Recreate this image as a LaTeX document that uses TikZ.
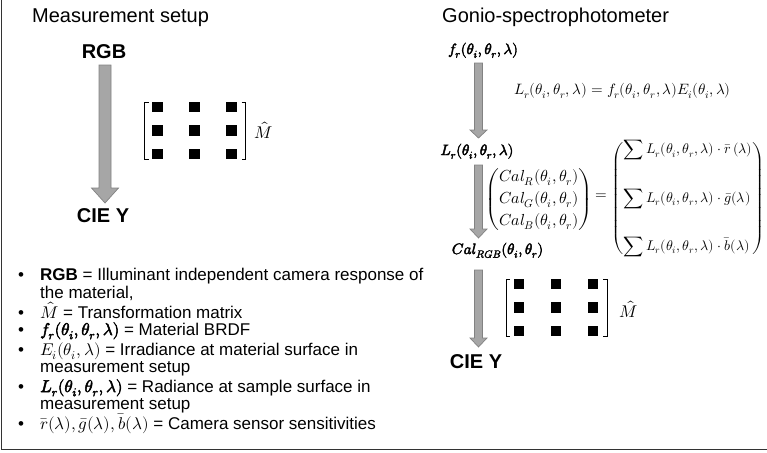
\documentclass[tikz,border=0pt]{standalone}
\usepackage{amsmath}
\usepackage{fontspec}
\usepackage{unicode-math}
\setmainfont{Liberation Sans}
\setmathfont{Latin Modern Math}
\setmathfont{Latin Modern Math}[version=bold,FakeBold=3]
\usetikzlibrary{calc}

\definecolor{arrowfill}{RGB}{166,166,166}
\definecolor{arrowline}{RGB}{130,130,130}

\tikzset{
  heading/.style={anchor=base west, inner sep=0pt, font=\fontsize{20}{24}\selectfont},
  biglabel/.style={anchor=base, inner sep=0pt, font=\fontsize{20}{24}\selectfont\bfseries},
  boldmath/.style={anchor=base, inner sep=0pt, font=\fontsize{15}{18}\selectfont\boldmath},
  mathlabel/.style={inner sep=0pt, font=\fontsize{15}{18}\selectfont},
  bullettext/.style={anchor=base west, inner sep=0pt, font=\fontsize{17}{20}\selectfont},
  bulletdot/.style={anchor=base, inner sep=0pt, font=\fontsize{17}{20}\selectfont},
  fatarrowstyle/.style={fill=arrowfill, draw=arrowline, line width=0.7pt, line join=miter},
  bracketline/.style={draw=black, line width=0.8pt},
  frameline/.style={draw=black!80, line width=1pt},
}

% shaft from #1 down to the tip #2; #3 half shaft width, #4 half head width, #5 head length
\newcommand\fatarrow[5]{%
  \draw[fatarrowstyle] ($(#1)+(-#3,0)$) -- ($(#2)+(-#3,-#5)$) -- ($(#2)+(-#4,-#5)$)
    -- (#2) -- ($(#2)+(#4,-#5)$) -- ($(#2)+(#3,-#5)$) -- ($(#1)+(#3,0)$) -- cycle;}

% a bracketed 3x3 matrix of filled squares, drawn in local coordinates
\newcommand\dotmatrix{%
  \draw[bracketline] (4,0) -- (0,0) -- (0,57) -- (4,57);
  \draw[bracketline] (97,0) -- (101,0) -- (101,57) -- (97,57);
  \foreach \cx in {13,50,87}
    \foreach \cy in {5,28.5,52}
      \fill (\cx-5.25,\cy-5.25) rectangle (\cx+5.25,\cy+5.25);}

\begin{document}
\begin{tikzpicture}[x=1pt,y=-1pt]
\useasboundingbox (0,0) rectangle (767,452);

% frame
\draw[frameline] (1.5,0) -- (1.5,449.5) -- (767,449.5);

% ---------------- left: measurement setup ----------------
\node[heading] (title1) at (32,23) {Measurement setup};
\node[biglabel] (rgb) at (104,58) {RGB};
\node[biglabel] (ciey1) at (103,222) {CIE Y};
\coordinate (a1s) at ($(rgb.base)+(1,7)$);
\coordinate (a1t) at ($(a1s |- ciey1.base)+(0,-19)$);
\fatarrow{a1s}{a1t}{6}{13.5}{15}

\begin{scope}[shift={(144.5,102)}]
  \dotmatrix
\end{scope}
\node[mathlabel, font=\fontsize{17}{20}\selectfont] (mhat1) at (263.5,130) {$\hat{M}$};

% ---------------- right: gonio-spectrophotometer ----------------
\node[heading] (title2) at (442,23) {Gonio-spectrophotometer};

\node[boldmath] (fr) at (483,54) {$f_r(\theta_i,\theta_r,\lambda)$};
\node[boldmath] (lr) at (477,155) {$L_r(\theta_i,\theta_r,\lambda)$};
\node[boldmath] (cal) at (497.5,254) {$Cal_{RGB}(\theta_i,\theta_r)$};
\node[biglabel] (ciey2) at (476,368) {CIE Y};

\coordinate (a2s) at ($(fr.base)+(-4.5,9)$);
\coordinate (a2t) at ($(a2s |- lr.base)+(0,-17)$);
\fatarrow{a2s}{a2t}{4}{8.5}{8}

\coordinate (a3s) at ($(lr.base)+(1.5,10)$);
\coordinate (a3t) at ($(a3s |- cal.base)+(0,-16)$);
\fatarrow{a3s}{a3t}{4}{8.5}{9}

\coordinate (a4s) at ($(cal.base)+(-19,16)$);
\coordinate (a4t) at ($(a4s |- ciey2.base)+(0,-21)$);
\fatarrow{a4s}{a4t}{4}{8.5}{9}

\node[mathlabel] (eq1) at (622.5,91)
  {$L_r(\theta_i,\theta_r,\lambda)=f_r(\theta_i,\theta_r,\lambda)E_i(\theta_i,\lambda)$};

\node[mathlabel, font=\fontsize{16}{22}\selectfont] (calvec) at (539,199.5)
  {$\left(\begin{array}{@{}c@{}}Cal_R(\theta_i,\theta_r)\\Cal_G(\theta_i,\theta_r)\\Cal_B(\theta_i,\theta_r)\end{array}\right)$};
\node[mathlabel] (eqsign) at (601,197) {$=$};
\node[mathlabel, font=\fontsize{14}{17}\selectfont] (sumvec) at (688,198.5)
  {$\left(\begin{array}{@{}l@{}}
    \displaystyle\sum L_r(\theta_i,\theta_r,\lambda)\cdot\bar{r}\,(\lambda)\\[30pt]
    \displaystyle\sum L_r(\theta_i,\theta_r,\lambda)\cdot\bar{g}(\lambda)\\[30pt]
    \displaystyle\sum L_r(\theta_i,\theta_r,\lambda)\cdot\bar{b}(\lambda)
  \end{array}\right)$};

\begin{scope}[shift={(506,279)}]
  \dotmatrix
\end{scope}
\node[mathlabel, font=\fontsize{17}{20}\selectfont] (mhat2) at (629,309) {$\hat{M}$};

% ---------------- legend ----------------
\foreach \yy in {280,318,335,355,392,429}
  \node[bulletdot] at (21,\yy) {•};
\node[bullettext] (l1) at (40,280) {\textbf{RGB} = Illuminant independent camera response of};
\node[bullettext] (l2) at (40,298) {the material,};
\node[bullettext] (l3) at (40,318) {$\hat{M}$ = Transformation matrix};
\node[bullettext] (l4) at (40,335) {{\boldmath$f_r(\theta_i,\theta_r,\lambda)$} = Material BRDF};
\node[bullettext] (l5) at (40,355) {$E_i(\theta_i,\lambda)$ = Irradiance at material surface in};
\node[bullettext] (l6) at (40,372) {measurement setup};
\node[bullettext] (l7) at (40,392) {{\boldmath$L_r(\theta_i,\theta_r,\lambda)$} = Radiance at sample surface in};
\node[bullettext] (l8) at (40,409) {measurement setup};
\node[bullettext] (l9) at (40,429) {$\bar{r}(\lambda),\bar{g}(\lambda),\bar{b}(\lambda)$ = Camera sensor sensitivities};
\end{tikzpicture}
\end{document}
